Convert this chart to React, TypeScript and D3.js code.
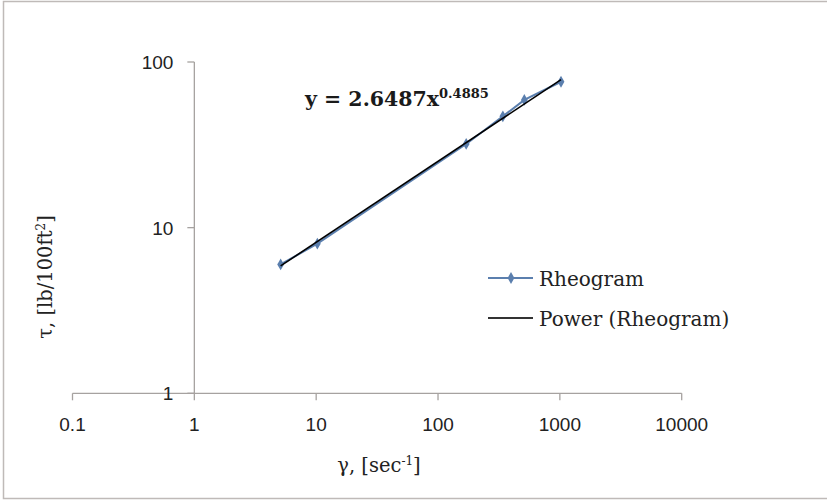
import React from "react";
import * as d3 from "d3";

const shearRates = [5.11, 10.22, 170.3, 340.6, 511, 1022];
const shearStress = [6, 8, 32, 47, 59, 76];
const fitCoef = 2.6487;
const fitExp = 0.4885;
const xTicks = [0.1, 1, 10, 100, 1000, 10000];
const xTickLabels = ["0.1", "1", "10", "100", "1000", "10000"];
const yTicks = [1, 10, 100];
const yTickLabels = ["1", "10", "100"];
const seriesName = "Rheogram";
const trendName = "Power (Rheogram)";

export default function App() {
  const W = 827, H = 500;
  const x = d3.scaleLog().domain([0.1, 10000]).range([72.5, 681.7]);
  const y = d3.scaleLog().domain([1, 100]).range([393.3, 62]);
  const axisColor = "#a6a2a0";
  const blue = "#5b7fae";
  const tickFont = "'Liberation Sans', Arial, sans-serif";
  const serif = "'DejaVu Serif', Georgia, serif";

  const pts = shearRates.map((r, i) => [r, shearStress[i]] as [number, number]);
  const line = d3.line<[number, number]>().x(d => x(d[0])).y(d => y(d[1]));
  const xMin = d3.min(shearRates)!, xMax = d3.max(shearRates)!;
  const fitPts: [number, number][] = [xMin, xMax].map(v => [v, fitCoef * Math.pow(v, fitExp)]);
  const diamond = d3.symbol().type(d3.symbolDiamond).size(40)()!;

  const x0 = x(1); // y-axis crosses at x=1
  const y0 = y(1); // x-axis crosses at y=1

  return (
    <svg width={W} height={H} style={{ position: "absolute", left: 0, top: 0 }}>
      <rect x={0} y={0} width={W} height={H} fill="#fff" />
      <rect x={3.5} y={1.5} width={W + 10} height={497} fill="none" stroke="#bfbab8" strokeWidth={1.5} />
      {/* x axis */}
      <line x1={x(0.1)} x2={x(10000)} y1={y0} y2={y0} stroke={axisColor} strokeWidth={1.3} />
      {xTicks.map((t, i) => (
        <g key={"xt" + i}>
          <line x1={x(t)} x2={x(t)} y1={y0} y2={y0 + 7} stroke={axisColor} strokeWidth={1.3} />
          <text x={x(t)} y={y0 + 38} textAnchor="middle" fontFamily={tickFont} fontSize={19} fill="#222">{xTickLabels[i]}</text>
        </g>
      ))}
      {/* y axis */}
      <line x1={x0} x2={x0} y1={y(100)} y2={y0} stroke={axisColor} strokeWidth={1.3} />
      {yTicks.map((t, i) => (
        <g key={"yt" + i}>
          <line x1={x0 - 7} x2={x0} y1={y(t)} y2={y(t)} stroke={axisColor} strokeWidth={1.3} />
          <text x={x0 - 21} y={y(t) + 7} textAnchor="end" fontFamily={tickFont} fontSize={19} fill="#222">{yTickLabels[i]}</text>
        </g>
      ))}
      {/* series */}
      <path d={line(pts)!} fill="none" stroke={blue} strokeWidth={2} />
      {pts.map((p, i) => (
        <path key={"m" + i} d={diamond} transform={`translate(${x(p[0])},${y(p[1])})`} fill={blue} />
      ))}
      {/* trendline */}
      <path d={line(fitPts)!} fill="none" stroke="#000" strokeWidth={1.6} />
      {/* equation */}
      <text x={305} y={106} fontFamily={serif} fontWeight="bold" fontSize={20.5} fill="#1a1a1a">
        y = 2.6487x<tspan dy={-8} fontSize={13}>0.4885</tspan>
      </text>
      {/* axis titles */}
      <text x={379} y={472} textAnchor="middle" fontFamily={serif} fontSize={19.5} fill="#222">
        γ, [sec<tspan dy={-7} fontSize={12}>-1</tspan><tspan dy={7}>]</tspan>
      </text>
      <text transform="translate(52,277) rotate(-90)" textAnchor="middle" fontFamily={serif} fontSize={19.5} fill="#222">
        τ, [lb/100ft<tspan dy={-7} fontSize={12}>2</tspan><tspan dy={7}>]</tspan>
      </text>
      {/* legend */}
      <g>
        <line x1={488} x2={533} y1={278} y2={278} stroke={blue} strokeWidth={2} />
        <path d={diamond} transform="translate(511,278)" fill={blue} />
        <text x={539} y={285.5} fontFamily={serif} fontSize={20} fill="#222">{seriesName}</text>
        <line x1={488} x2={533} y1={318} y2={318} stroke="#333" strokeWidth={1.8} />
        <text x={539} y={326} fontFamily={serif} fontSize={20} fill="#222">{trendName}</text>
      </g>
    </svg>
  );
}
